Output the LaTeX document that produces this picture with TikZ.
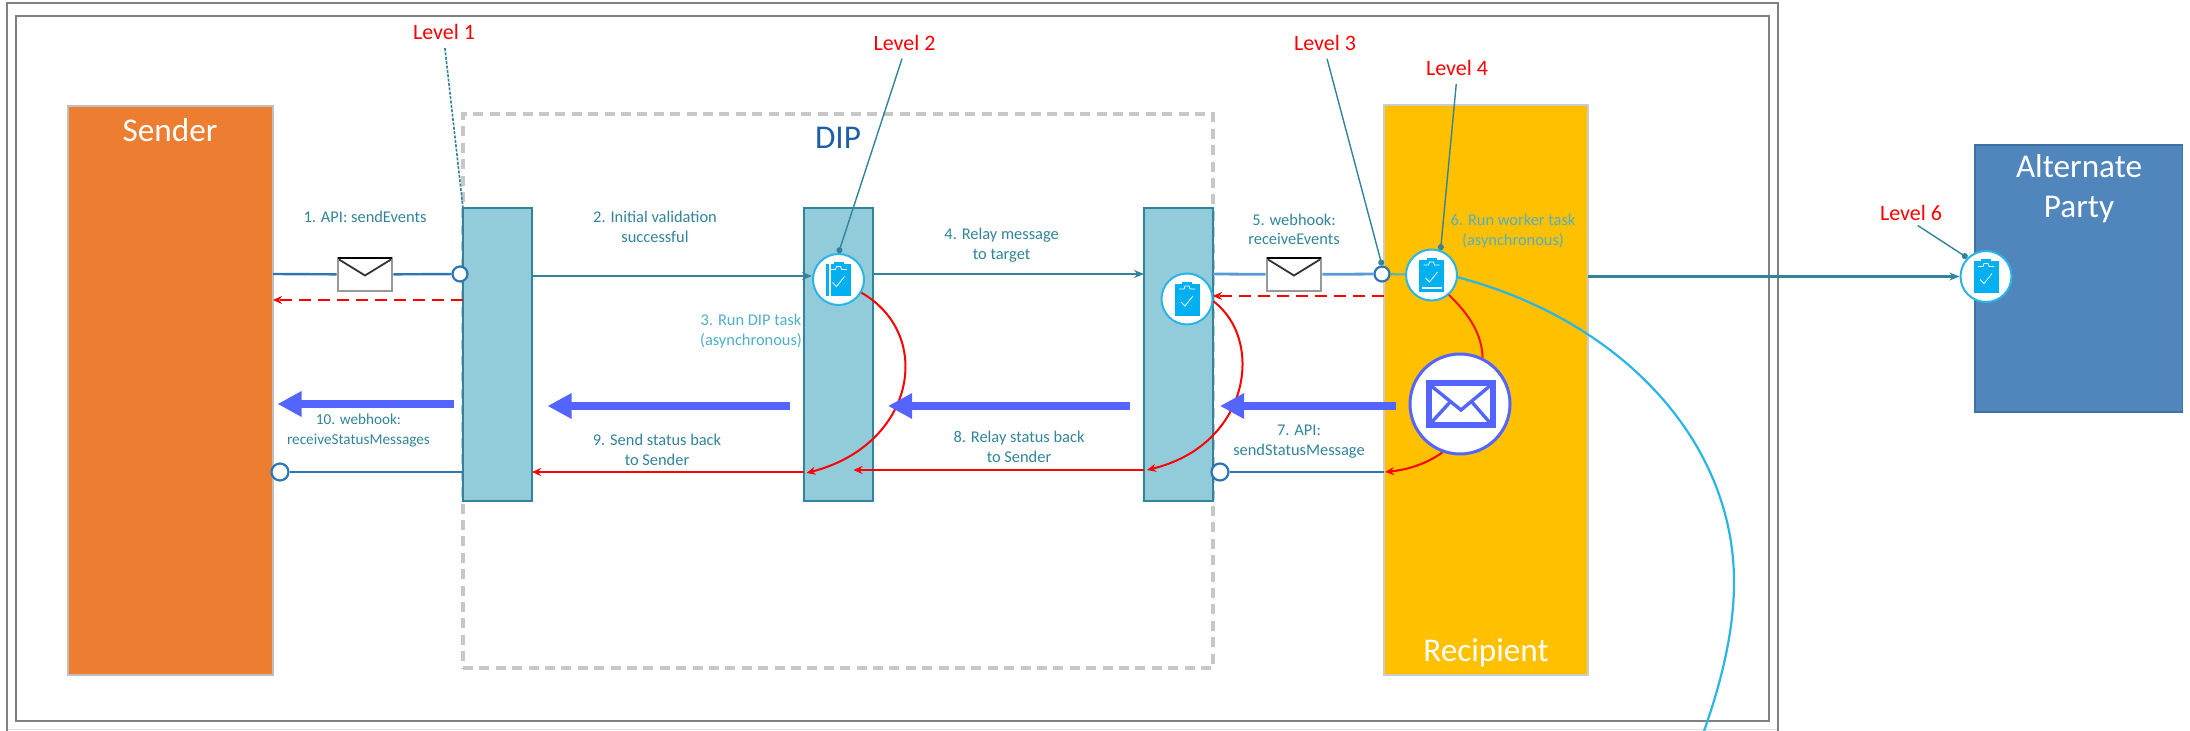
\documentclass[tikz,border=0pt]{standalone}
\usepackage{fontspec}
\setmainfont{Carlito}
\usetikzlibrary{arrows.meta,calc}
\definecolor{teal1}{HTML}{31849B}
\definecolor{teal2}{HTML}{4FB0C6}
\definecolor{barfill}{HTML}{92CCDA}
\definecolor{blue1}{HTML}{2E75B6}
\definecolor{blue2}{HTML}{5B9BD5}
\definecolor{fatc}{HTML}{5465FF}
\definecolor{cyan1}{HTML}{00B0F0}
\definecolor{cyan2}{HTML}{29B5E8}
\definecolor{redc}{HTML}{FF0000}
\definecolor{framec}{HTML}{808080}
\definecolor{senderc}{HTML}{ED7D31}
\definecolor{recipc}{HTML}{FFC000}
\definecolor{altfill}{HTML}{5086BB}
\definecolor{altdraw}{HTML}{3F72A0}
\definecolor{dipc}{HTML}{1F5FA8}
\tikzset{
  panel/.style={anchor=north west,inner sep=0pt,outer sep=0pt,draw=#1,line width=0.6pt},
  barbox/.style={anchor=north west,inner sep=0pt,outer sep=0pt,draw=teal1,line width=1pt,fill=barfill,minimum width=34.5pt,minimum height=146.5pt},
  clipcirc/.style={circle,inner sep=0pt,fill=white,draw=cyan2,line width=1pt,minimum size=25.5pt},
  port/.style={circle,inner sep=0pt,fill=white,draw=blue1,line width=1.1pt,minimum size=#1},
  envbox/.style={inner sep=0pt,minimum width=27pt,minimum height=16.5pt,fill=white,draw=black!40,line width=1.4pt},
  small/.style={inner sep=0pt,align=center,text=teal1,font=\fontsize{8.2}{9.8}\selectfont},
  smalll/.style={small,text=teal2},
  level/.style={inner sep=0pt,text=redc,font=\fontsize{11}{13}\selectfont},
  big/.style={inner sep=0pt,align=center,text=white,font=\fontsize{16.6}{20}\selectfont},
  leader/.style={draw=teal1,line width=0.7pt,shorten <=4pt,-{Circle[length=3pt]}},
  tealarrow/.style={draw=teal1,line width=1.1pt,-{Stealth[length=5pt,width=4pt]}},
  blueline/.style={draw=blue1,line width=1.2pt},
  redarrow/.style={draw=redc,line width=1pt,-{Stealth[length=4.5pt,width=4pt]}},
  reddash/.style={redarrow,dash pattern=on 6pt off 3.5pt},
  fatarrow/.style={draw=fatc,line width=4pt,-{Triangle[length=12pt,width=12pt]}}
}
\newcommand{\clipicon}[2]{%
  \begin{scope}[shift={(#1)}]
    \fill[cyan1] (-12.5,-15) rectangle (12.5,17);
    \fill[cyan1] (-5,-17) rectangle (5,-14);
    \draw[white,line width=0.4pt] (-8,-10) -- (-3,-10) -- (-2,-13) -- (2,-13) -- (3,-10) -- (8,-10);
    \draw[white,line width=0.4pt] (-6,3) -- (-2,7) -- (6,-3);
    #2
  \end{scope}}
\newcommand{\envicon}[1]{%
  \begin{scope}[shift={(#1)}]
    \draw[black,line width=1.2pt] (-27,-16.5) -- (27,-16.5);
    \draw[black!80,line width=0.9pt] (-26,-15) -- (0,1) -- (26,-15);
  \end{scope}}
\begin{document}
\begin{tikzpicture}[x=0.5pt,y=-0.5pt]
\useasboundingbox (0,0) rectangle (2190,731);
% frames
\draw[black!12,line width=0.5pt] (7,729.5) -- (1778,729.5);
\draw[framec,line width=1pt] (7,731) -- (7,3.5) -- (1778,3.5) -- (1778,731);
\node[panel=framec,line width=1pt,minimum width=876.5pt,minimum height=352.25pt] (inner) at (16,16) {};
% panels
\node[panel=black!22,fill=white,dash pattern=on 5pt off 3.2pt,line width=1.8pt,minimum width=375pt,minimum height=277pt] (dipbox) at (463,114) {};
\node[panel=black!25,fill=senderc,minimum width=102.5pt,minimum height=284.5pt] (sender) at (68,106) {};
\node[panel=black!20,fill=recipc,minimum width=102pt,minimum height=285pt] (recipient) at (1384,105) {};
\node[panel=altdraw,fill=altfill,minimum width=103.75pt,minimum height=133.5pt] (alternate) at (1975,145) {};
\node[barbox] (bar1) at (463,208) {};
\node[barbox] (bar2) at (804,208) {};
\node[barbox] (bar3) at (1144,208) {};
% titles
\node[big] (tsender) at (170,130) {Sender};
\node[big,text=dipc] (tdip) at (838,138) {DIP};
\node[big] (trecipient) at (1486,653) {Recipient};
\node[big] (talternate) at (2079,189) {Alternate\\Party};
% clip nodes
\node[clipcirc] (clip2) at (838.5,279.5) {};
\node[clipcirc] (clip3) at (1187,299) {};
\node[clipcirc] (clip4) at (1431.5,275) {};
\node[clipcirc] (clip6) at (1986,276.5) {};
\clipicon{clip2}{\fill[white] (-9.5,-15) rectangle (-8,17);}
\clipicon{clip3}{}
\clipicon{clip4}{\fill[white] (-10,12) rectangle (10,14);}
\clipicon{clip6}{}
\node[circle,inner sep=0pt,fill=white,draw=fatc,line width=1.5pt,minimum size=50pt] (mail) at (1460,404) {};
\begin{scope}[shift={(mail)}]
  \draw[fatc,line width=3pt] (-31.5,-20.5) rectangle (32.5,21.5);
  \draw[fatc,line width=1.7pt] (-30,-19) -- (1,6) -- (31,-19);
  \draw[fatc,line width=1.7pt] (-30,20) -- (-9,-3);
  \draw[fatc,line width=1.7pt] (31,20) -- (11,-3);
\end{scope}
% ports and envelopes
\node[port=7.5pt] (port1) at (460,274) {};
\node[port=7.5pt] (port5) at (1382,274) {};
\node[port=8.5pt] (port10) at (280,472) {};
\node[port=8.5pt] (port7) at (1220,472) {};
\node[envbox] (env1) at (365,274.5) {};
\node[envbox] (env5) at (1294,274.5) {};
\envicon{env1}
\envicon{env5}
% step labels
\node[small] (l1) at (365,217) {1. API: sendEvents};
\node[small] (l2) at (655,227) {2. Initial validation\\successful};
\node[smalll] (l3) at (751,331) {3. Run DIP task\\(asynchronous)};
\node[small] (l4) at (1001.6,245) {4. Relay message\\to target};
\node[small] (l5) at (1294,229.5) {5. webhook:\\receiveEvents};
\node[smalll] (l6) at (1513,231) {6. Run worker task\\(asynchronous)};
\node[small] (l7) at (1299,441.5) {7. API:\\sendStatusMessage};
\node[small] (l8) at (1019,447) {8. Relay status back\\to Sender};
\node[small] (l9) at (657,450) {9. Send status back\\to Sender};
\node[small,font=\fontsize{7.6}{9.8}\selectfont] (l10) at (358.5,430.5) {10. webhook:\\receiveStatusMessages};
% level labels
\node[level] (lv1) at (444,32) {Level 1};
\node[level] (lv2) at (904.5,43) {Level 2};
\node[level] (lv3) at (1325,43) {Level 3};
\node[level] (lv4) at (1457,68) {Level 4};
\node[level] (lv6) at (1911,213) {Level 6};
% free ends
\coordinate (fa1) at (454,404);
\coordinate (fb1) at (277.5,404);
\coordinate (fa2) at (790,406);
\coordinate (fb2) at (547.5,406);
\coordinate (fa3) at (1130,406);
\coordinate (fb3) at (888,406);
\coordinate (fa4) at (1395.5,406);
\coordinate (fb4) at (1220,406);
\coordinate (endarcb) at (806.5,473);
\coordinate (endarcc) at (1147,470);
\coordinate (endmail) at (1385,472);
\coordinate (endeight) at (853.5,470);
\coordinate (midcyan) at (1734,582);
\coordinate (endcyan) at (1704,731);
% connectors
\draw[blueline] (sender.east |- port1) -- (env1);
\draw[blueline] (env1) -- (port1);
\draw[reddash] (bar1.west |- 0,300) -- (sender.east |- 0,300);
\draw[tealarrow] (bar1.east |- 0,276) -- (clip2.west |- 0,276);
\draw[tealarrow] (bar2.east |- 0,274) -- (bar3.west |- 0,274);
\draw[draw=blue2,line width=1.4pt] (bar3.east |- port5) -- (env5);
\draw[draw=blue2,line width=1.4pt] (env5) -- (port5);
\draw[draw=teal2,line width=1pt] (port5) -- (clip4);
\draw[reddash] (recipient.west |- 0,296) -- (bar3.east |- 0,296);
\draw[blueline] (port10) -- (bar1.west |- port10);
\draw[blueline] (port7) -- (recipient.west |- port7);
\draw[redarrow] (bar2.west |- 0,472) -- (bar1.east |- 0,472);
\draw[redarrow] (bar3.west |- endeight) -- (endeight);
\draw[redarrow] (clip2.-30) .. controls (935,335) and (915,445) .. (endarcb);
\draw[redarrow] (clip3.-5) .. controls (1265,340) and (1250,445) .. (endarcc);
\draw[draw=red!85!orange,line width=1pt] (clip4.-49) .. controls (1470,315) and (1482,335) .. (mail.64);
\draw[redarrow] (mail.-110) .. controls (1425,465) and (1405,470) .. (endmail);
\draw[tealarrow] (recipient.east |- clip6) -- (clip6);
\draw[draw=cyan2,line width=1.1pt] (clip4.-5) .. controls (1620,320) and (1734,440) .. (midcyan) .. controls (1734,630) and (1722,680) .. (endcyan);
\draw[fatarrow] (fa1) -- (fb1);
\draw[fatarrow] (fa2) -- (fb2);
\draw[fatarrow] (fa3) -- (fb3);
\draw[fatarrow] (fa4) -- (fb4);
\draw[draw=teal1,line width=0.8pt,dash pattern=on 1.5pt off 0.7pt,shorten <=4pt] (lv1.south) -- (bar1.north west);
\draw[leader] (lv2.south) -- (clip2.north);
\draw[leader] (lv3.south) -- (port5.north);
\draw[leader] (lv4.south) -- (clip4.70);
\draw[leader] (lv6.south) -- (clip6.135);
\end{tikzpicture}
\end{document}
